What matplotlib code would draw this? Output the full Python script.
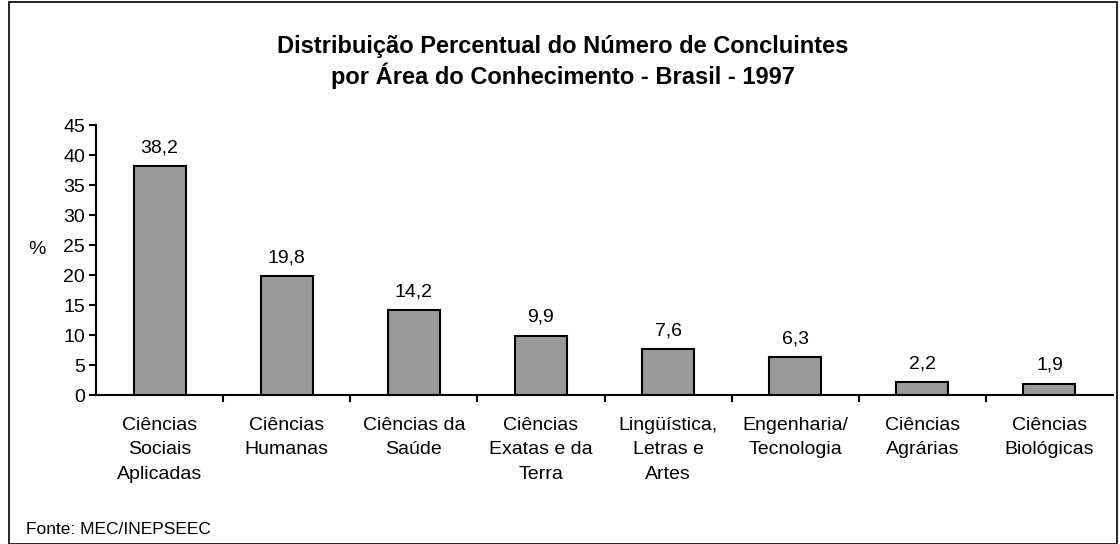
import matplotlib
matplotlib.use("Agg")
import matplotlib.pyplot as plt
from matplotlib.patches import Rectangle

categories = ["Ciências\nSociais\nAplicadas", "Ciências\nHumanas", "Ciências da\nSaúde",
              "Ciências\nExatas e da\nTerra", "Lingüística,\nLetras e\nArtes",
              "Engenharia/\nTecnologia", "Ciências\nAgrárias", "Ciências\nBiológicas"]
values = [38.2, 19.8, 14.2, 9.9, 7.6, 6.3, 2.2, 1.9]
value_labels = ["38,2", "19,8", "14,2", "9,9", "7,6", "6,3", "2,2", "1,9"]
yticks = [0, 5, 10, 15, 20, 25, 30, 35, 40, 45]

plt.rcParams['font.family'] = ['Liberation Sans', 'DejaVu Sans']

W, H = 1120, 544
fig = plt.figure(figsize=(W / 100, H / 100), dpi=100)
ax = fig.add_axes([96 / W, 1 - 395 / H, (1113 - 96) / W, (395 - 125) / H])

FS = 14
x = list(range(len(values)))
ax.bar(x, values, width=0.41, color="#999999", edgecolor="black", linewidth=1.5, zorder=3)
for xi, v, lab in zip(x, values, value_labels):
    ax.annotate(lab, (xi, v), xytext=(0, 7), textcoords="offset points",
                ha="center", va="bottom", fontsize=FS)

ax.set_xlim(-0.5, len(values) - 0.5)
ax.set_ylim(0, 45)
ax.set_yticks(yticks)
ax.set_yticklabels([str(t) for t in yticks], fontsize=FS)
ax.set_xticks([i + 0.5 for i in range(len(values) - 1)])
ax.set_xticklabels([])
ax.set_xticks(x, minor=True)
ax.set_xticklabels(categories, minor=True, fontsize=FS, linespacing=1.55)
ax.tick_params(axis="x", which="minor", length=0, pad=16)
ax.tick_params(axis="x", which="major", direction="out", length=5, width=1.5)
ax.tick_params(axis="y", direction="out", length=5, width=1.5, pad=3)
for s in ["top", "right"]:
    ax.spines[s].set_visible(False)
for s in ["left", "bottom"]:
    ax.spines[s].set_linewidth(1.5)

fig.text(28 / W, 1 - 249 / H, "%", fontsize=FS, ha="left", va="center")
fig.text(563 / W, 1 - 62 / H, "Distribuição Percentual do Número de Concluintes\npor Área do Conhecimento - Brasil - 1997",
         ha="center", va="center", fontsize=17, fontweight="bold", linespacing=1.25)
fig.text(26 / W, 1 - 529 / H, "Fonte: MEC/INEPSEEC", fontsize=12.5, ha="left", va="center")

fig.patches.append(Rectangle((8.5 / W, 0.5 / H), (1117 - 8.5) / W, (543 - 1.5) / H,
                             transform=fig.transFigure, fill=False, edgecolor="black", linewidth=1.2))

fig.savefig("out.png", dpi=100)
